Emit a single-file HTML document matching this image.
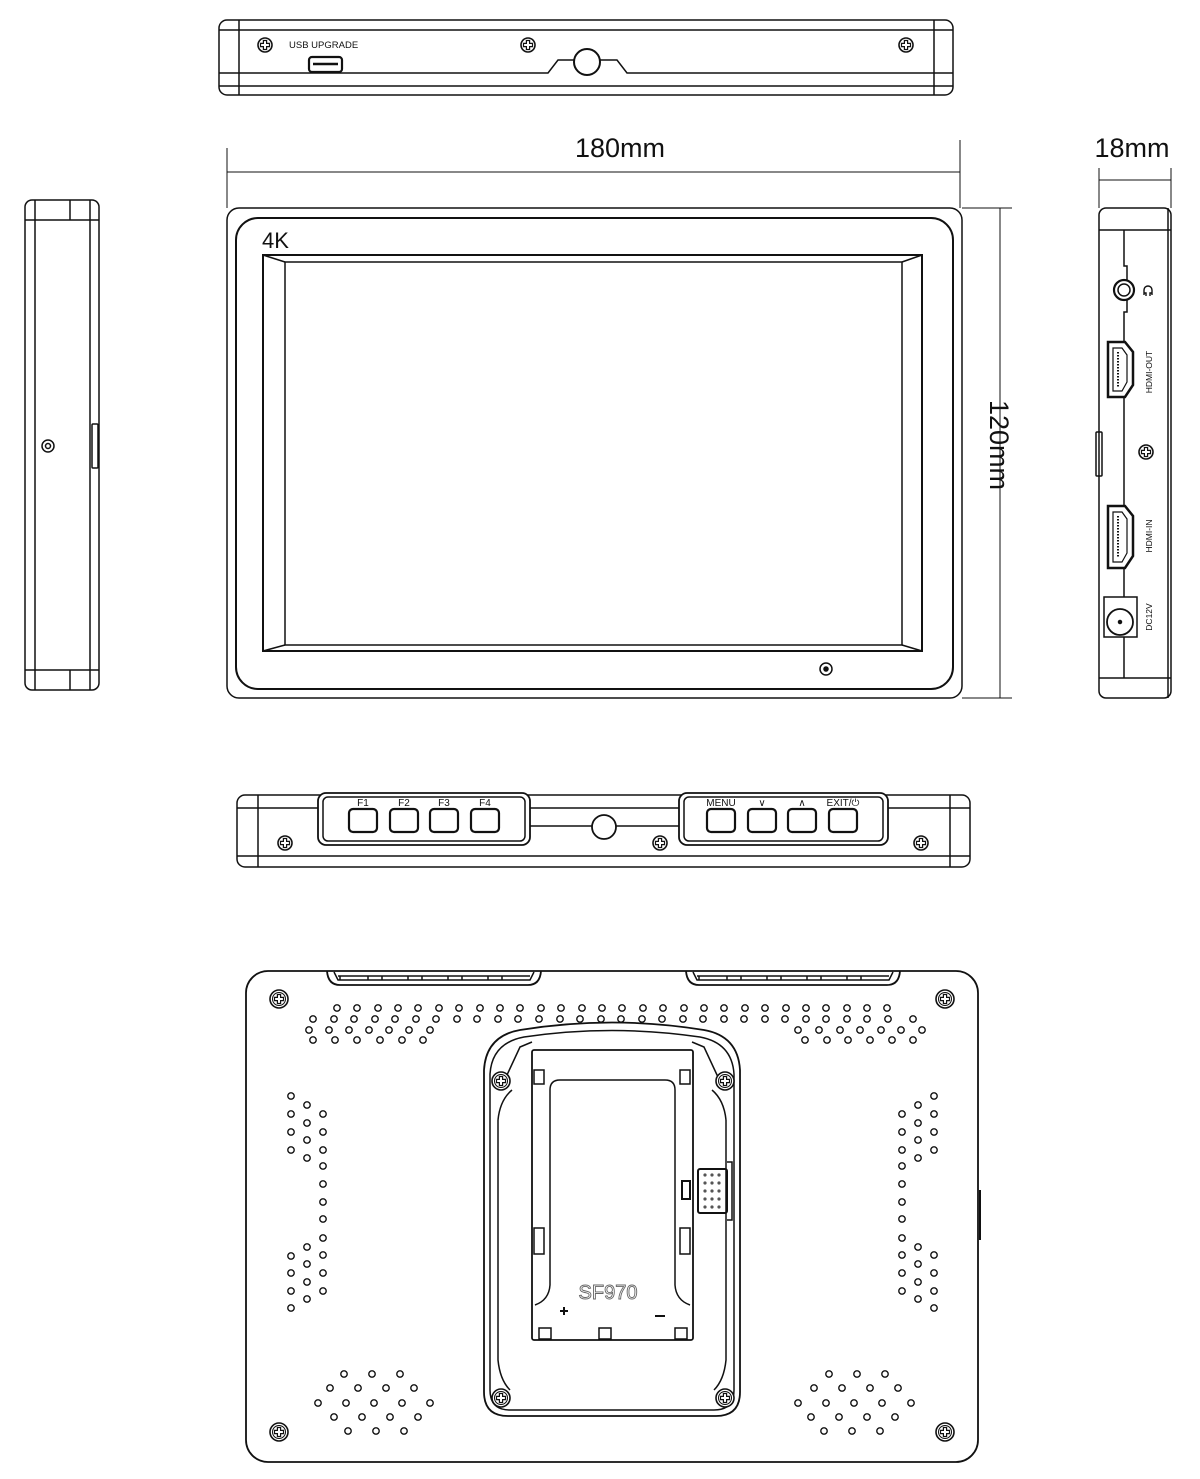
<!DOCTYPE html>
<html><head><meta charset="utf-8"><style>
html,body{margin:0;padding:0;background:#fff;}
svg{display:block;}
text{font-family:"Liberation Sans",sans-serif;fill:#111;}
</style></head><body>
<svg width="1200" height="1479" viewBox="0 0 1200 1479" xmlns="http://www.w3.org/2000/svg">
<defs>
<g id="sc"><circle r="7" fill="#fff" stroke="#111" stroke-width="1.6"/><path d="M-1.6,-4.5h3.2v2.9h2.9v3.2h-2.9v2.9h-3.2v-2.9h-2.9v-3.2h2.9z" fill="none" stroke="#111" stroke-width="1.2"/></g>
<g id="sc2"><circle r="9" fill="#fff" stroke="#111" stroke-width="1.6"/><circle r="6.5" fill="none" stroke="#111" stroke-width="1"/><path d="M-1.6,-4.5h3.2v2.9h2.9v3.2h-2.9v2.9h-3.2v-2.9h-2.9v-3.2h2.9z" fill="none" stroke="#111" stroke-width="1.2"/></g>
<circle id="d" r="3.2" fill="none" stroke="#111" stroke-width="1.4"/>
</defs>
<g fill="none" stroke="#111" stroke-width="1.5">
<!-- TOP VIEW -->
<rect x="219" y="20" width="734" height="75" rx="8"/>
<line x1="239" y1="20" x2="239" y2="95"/><line x1="934" y1="20" x2="934" y2="95"/>
<line x1="219" y1="30" x2="953" y2="30"/>
<line x1="219" y1="86" x2="953" y2="86"/>
<path d="M219,73 H548 L558,60 H574 M600,60 H617 L627,73 H953"/>
<circle cx="587" cy="62" r="13" stroke-width="2"/>
<rect x="309" y="57" width="33" height="15" rx="3" stroke-width="2.2"/>
<line x1="313" y1="64" x2="338" y2="64" stroke-width="2.5"/>
<!-- FRONT -->
<rect x="227" y="208" width="735" height="490" rx="12"/>
<rect x="236" y="218" width="717" height="471" rx="22" stroke-width="2"/>
<rect x="263" y="255" width="659" height="396" stroke-width="2"/>
<rect x="285" y="262" width="617" height="383"/>
<path d="M263,255 L285,262 M922,255 L902,262 M263,651 L285,645 M922,651 L902,645"/>
<circle cx="826" cy="669" r="6"/><circle cx="826" cy="669" r="2" fill="#111"/>
<!-- dims -->
<path d="M227,148 V208 M960,140 V208 M227,172 H960 M962,208 H1012 M962,698 H1012 M1000,208 V698" stroke-width="1"/>
<path d="M1099,168 V208 M1171,168 V208 M1099,180 H1171" stroke-width="1"/>
<!-- LEFT SIDE -->
<rect x="25" y="200" width="74" height="490" rx="7"/>
<line x1="35" y1="200" x2="35" y2="690"/><line x1="90" y1="200" x2="90" y2="690"/>
<line x1="25" y1="220" x2="99" y2="220"/><line x1="25" y1="670" x2="99" y2="670"/>
<line x1="70" y1="200" x2="70" y2="220"/><line x1="70" y1="670" x2="70" y2="690"/>
<rect x="92" y="424" width="6" height="44" rx="1"/>
<circle cx="48" cy="446" r="6"/><circle cx="48" cy="446" r="2.5"/>
<!-- RIGHT SIDE -->
<rect x="1099" y="208" width="72" height="490" rx="7"/>
<line x1="1168" y1="208" x2="1168" y2="698"/>
<line x1="1099" y1="230" x2="1171" y2="230"/><line x1="1099" y1="678" x2="1171" y2="678"/>
<path d="M1124,230 V266 H1127 V312 H1124 V678"/>
<circle cx="1124" cy="290" r="10" stroke-width="2.2" fill="#fff"/><circle cx="1124" cy="290" r="6"/>
<path d="M1144,295 v-5 a4,4 0 0 1 8,0 v5 M1144,293 h2 v3 M1152,293 h-2 v3" stroke-width="1.4"/>
<path d="M1108,342 H1125 L1133,352 V385 L1125,397 H1108 Z" stroke-width="2.5" fill="#fff"/>
<path d="M1113,348 H1122 L1127,355 V382 L1122,391 H1113 Z" stroke-width="1.2"/>
<line x1="1118" y1="352" x2="1118" y2="387" stroke-dasharray="1.5,1.5" stroke-width="2"/>
<path d="M1108,506 H1125 L1133,516 V556 L1125,568 H1108 Z" stroke-width="2.5" fill="#fff"/>
<path d="M1113,512 H1122 L1127,519 V553 L1122,562 H1113 Z" stroke-width="1.2"/>
<line x1="1118" y1="516" x2="1118" y2="558" stroke-dasharray="1.5,1.5" stroke-width="2"/>
<rect x="1104" y="597" width="33" height="40" fill="#fff"/>
<circle cx="1120" cy="622" r="13" stroke-width="1.8"/><circle cx="1120" cy="622" r="1.5" fill="#111"/>
<rect x="1096" y="432" width="6" height="44" rx="1"/>
<!-- BOTTOM VIEW -->
<rect x="237" y="795" width="733" height="72" rx="8"/>
<line x1="258" y1="795" x2="258" y2="867"/><line x1="950" y1="795" x2="950" y2="867"/>
<line x1="237" y1="808" x2="318" y2="808"/><line x1="888" y1="808" x2="970" y2="808"/>
<line x1="530" y1="808" x2="679" y2="808"/><line x1="530" y1="826" x2="592" y2="826"/><line x1="616" y1="826" x2="679" y2="826"/>
<line x1="237" y1="856" x2="970" y2="856"/>
<rect x="318" y="793" width="212" height="52" rx="8" fill="#fff" stroke-width="1.8"/>
<rect x="323" y="797" width="202" height="44" rx="5"/>
<rect x="679" y="793" width="209" height="52" rx="8" fill="#fff" stroke-width="1.8"/>
<rect x="684" y="797" width="199" height="44" rx="5"/>
<g stroke-width="2.2">
<rect x="349" y="809" width="28" height="23" rx="4"/><rect x="390" y="809" width="28" height="23" rx="4"/><rect x="430" y="809" width="28" height="23" rx="4"/><rect x="471" y="809" width="28" height="23" rx="4"/>
<rect x="707" y="809" width="28" height="23" rx="4"/><rect x="748" y="809" width="28" height="23" rx="4"/><rect x="788" y="809" width="28" height="23" rx="4"/><rect x="829" y="809" width="28" height="23" rx="4"/>
</g>
<circle cx="604" cy="827" r="12" stroke-width="1.8"/>
<!-- BACK VIEW -->
<rect x="246" y="971" width="732" height="491" rx="22" stroke-width="1.8"/>
<path d="M327,971 Q328,985 340,985 H528 Q540,985 541,971" stroke-width="1.8"/>
<path d="M334,972 L338,980 H530 L534,972 M340,980 v-4 M368,980 v-4 M382,980 v-4 M408,980 v-4 M422,980 v-4 M448,980 v-4 M462,980 v-4 M488,980 v-4 M502,980 v-4 M338,976 H530"/>
<path d="M686,971 Q687,985 699,985 H887 Q899,985 900,971" stroke-width="1.8"/>
<path d="M693,972 L697,980 H889 L893,972 M699,980 v-4 M727,980 v-4 M741,980 v-4 M767,980 v-4 M781,980 v-4 M807,980 v-4 M821,980 v-4 M847,980 v-4 M861,980 v-4 M697,976 H889"/>
<line x1="980" y1="1190" x2="980" y2="1240" stroke-width="2"/>
</g>
<!-- screws -->
<use href="#sc" x="265" y="45"/><use href="#sc" x="528" y="45"/><use href="#sc" x="906" y="45"/>
<use href="#sc" x="1146" y="452"/>
<use href="#sc" x="285" y="843"/><use href="#sc" x="660" y="843"/><use href="#sc" x="921" y="843"/>
<use href="#sc2" x="279" y="999"/><use href="#sc2" x="945" y="999"/><use href="#sc2" x="279" y="1432"/><use href="#sc2" x="945" y="1432"/>
<!-- dots -->
<g>
<use href="#d" x="337" y="1008"/><use href="#d" x="357" y="1008"/><use href="#d" x="378" y="1008"/><use href="#d" x="398" y="1008"/><use href="#d" x="418" y="1008"/><use href="#d" x="439" y="1008"/><use href="#d" x="459" y="1008"/><use href="#d" x="480" y="1008"/><use href="#d" x="500" y="1008"/><use href="#d" x="520" y="1008"/><use href="#d" x="541" y="1008"/><use href="#d" x="561" y="1008"/><use href="#d" x="582" y="1008"/><use href="#d" x="602" y="1008"/><use href="#d" x="622" y="1008"/><use href="#d" x="643" y="1008"/><use href="#d" x="663" y="1008"/><use href="#d" x="684" y="1008"/><use href="#d" x="704" y="1008"/><use href="#d" x="724" y="1008"/><use href="#d" x="745" y="1008"/><use href="#d" x="765" y="1008"/><use href="#d" x="786" y="1008"/><use href="#d" x="806" y="1008"/><use href="#d" x="826" y="1008"/><use href="#d" x="847" y="1008"/><use href="#d" x="867" y="1008"/><use href="#d" x="887" y="1008"/>
<use href="#d" x="313" y="1019"/><use href="#d" x="334" y="1019"/><use href="#d" x="354" y="1019"/><use href="#d" x="375" y="1019"/><use href="#d" x="395" y="1019"/><use href="#d" x="416" y="1019"/><use href="#d" x="436" y="1019"/><use href="#d" x="457" y="1019"/><use href="#d" x="477" y="1019"/><use href="#d" x="498" y="1019"/><use href="#d" x="518" y="1019"/><use href="#d" x="539" y="1019"/><use href="#d" x="560" y="1019"/><use href="#d" x="580" y="1019"/><use href="#d" x="601" y="1019"/><use href="#d" x="621" y="1019"/><use href="#d" x="642" y="1019"/><use href="#d" x="662" y="1019"/><use href="#d" x="683" y="1019"/><use href="#d" x="703" y="1019"/><use href="#d" x="724" y="1019"/><use href="#d" x="744" y="1019"/><use href="#d" x="765" y="1019"/><use href="#d" x="785" y="1019"/><use href="#d" x="806" y="1019"/><use href="#d" x="826" y="1019"/><use href="#d" x="847" y="1019"/><use href="#d" x="867" y="1019"/><use href="#d" x="888" y="1019"/><use href="#d" x="913" y="1019"/>
<use href="#d" x="309" y="1030"/><use href="#d" x="329" y="1030"/><use href="#d" x="349" y="1030"/><use href="#d" x="369" y="1030"/><use href="#d" x="389" y="1030"/><use href="#d" x="409" y="1030"/><use href="#d" x="430" y="1030"/>
<use href="#d" x="798" y="1030"/><use href="#d" x="819" y="1030"/><use href="#d" x="840" y="1030"/><use href="#d" x="860" y="1030"/><use href="#d" x="881" y="1030"/><use href="#d" x="901" y="1030"/><use href="#d" x="922" y="1030"/>
<use href="#d" x="313" y="1040"/><use href="#d" x="335" y="1040"/><use href="#d" x="357" y="1040"/><use href="#d" x="380" y="1040"/><use href="#d" x="402" y="1040"/><use href="#d" x="423" y="1040"/>
<use href="#d" x="805" y="1040"/><use href="#d" x="827" y="1040"/><use href="#d" x="848" y="1040"/><use href="#d" x="870" y="1040"/><use href="#d" x="892" y="1040"/><use href="#d" x="913" y="1040"/>
<!-- left columns -->
<use href="#d" x="291" y="1096"/><use href="#d" x="291" y="1114"/><use href="#d" x="291" y="1132"/><use href="#d" x="291" y="1150"/>
<use href="#d" x="291" y="1256"/><use href="#d" x="291" y="1273"/><use href="#d" x="291" y="1291"/><use href="#d" x="291" y="1308"/>
<use href="#d" x="307" y="1105"/><use href="#d" x="307" y="1123"/><use href="#d" x="307" y="1140"/><use href="#d" x="307" y="1158"/>
<use href="#d" x="307" y="1247"/><use href="#d" x="307" y="1264"/><use href="#d" x="307" y="1282"/><use href="#d" x="307" y="1299"/>
<use href="#d" x="323" y="1114"/><use href="#d" x="323" y="1132"/><use href="#d" x="323" y="1150"/><use href="#d" x="323" y="1166"/><use href="#d" x="323" y="1184"/><use href="#d" x="323" y="1202"/><use href="#d" x="323" y="1219"/><use href="#d" x="323" y="1238"/><use href="#d" x="323" y="1255"/><use href="#d" x="323" y="1273"/><use href="#d" x="323" y="1291"/>
<!-- right columns -->
<use href="#d" x="934" y="1096"/><use href="#d" x="934" y="1114"/><use href="#d" x="934" y="1132"/><use href="#d" x="934" y="1150"/>
<use href="#d" x="934" y="1255"/><use href="#d" x="934" y="1273"/><use href="#d" x="934" y="1291"/><use href="#d" x="934" y="1308"/>
<use href="#d" x="918" y="1105"/><use href="#d" x="918" y="1123"/><use href="#d" x="918" y="1140"/><use href="#d" x="918" y="1158"/>
<use href="#d" x="918" y="1247"/><use href="#d" x="918" y="1264"/><use href="#d" x="918" y="1282"/><use href="#d" x="918" y="1299"/>
<use href="#d" x="902" y="1114"/><use href="#d" x="902" y="1132"/><use href="#d" x="902" y="1150"/><use href="#d" x="902" y="1166"/><use href="#d" x="902" y="1184"/><use href="#d" x="902" y="1202"/><use href="#d" x="902" y="1219"/><use href="#d" x="902" y="1238"/><use href="#d" x="902" y="1255"/><use href="#d" x="902" y="1273"/><use href="#d" x="902" y="1291"/>
<!-- bottom diamonds -->
<use href="#d" x="344" y="1374"/><use href="#d" x="372" y="1374"/><use href="#d" x="400" y="1374"/>
<use href="#d" x="330" y="1388"/><use href="#d" x="358" y="1388"/><use href="#d" x="386" y="1388"/><use href="#d" x="414" y="1388"/>
<use href="#d" x="318" y="1403"/><use href="#d" x="346" y="1403"/><use href="#d" x="374" y="1403"/><use href="#d" x="402" y="1403"/><use href="#d" x="430" y="1403"/>
<use href="#d" x="334" y="1417"/><use href="#d" x="362" y="1417"/><use href="#d" x="390" y="1417"/><use href="#d" x="418" y="1417"/>
<use href="#d" x="348" y="1431"/><use href="#d" x="376" y="1431"/><use href="#d" x="404" y="1431"/>
<use href="#d" x="829" y="1374"/><use href="#d" x="857" y="1374"/><use href="#d" x="885" y="1374"/>
<use href="#d" x="814" y="1388"/><use href="#d" x="842" y="1388"/><use href="#d" x="870" y="1388"/><use href="#d" x="898" y="1388"/>
<use href="#d" x="798" y="1403"/><use href="#d" x="826" y="1403"/><use href="#d" x="854" y="1403"/><use href="#d" x="882" y="1403"/><use href="#d" x="911" y="1403"/>
<use href="#d" x="811" y="1417"/><use href="#d" x="839" y="1417"/><use href="#d" x="867" y="1417"/><use href="#d" x="895" y="1417"/>
<use href="#d" x="824" y="1431"/><use href="#d" x="852" y="1431"/><use href="#d" x="880" y="1431"/>
</g>
<!-- battery plate -->
<g fill="none" stroke="#111" stroke-width="1.5">
<path d="M484,1070 Q486,1036 520,1030 Q612,1015 704,1030 Q738,1036 740,1070 V1392 Q740,1416 716,1416 H508 Q484,1416 484,1392 Z" fill="#fff" stroke-width="1.8"/>
<path d="M490,1074 Q492,1043 524,1037 Q612,1024 700,1037 Q732,1043 734,1074 V1390 Q734,1410 714,1410 H510 Q490,1410 490,1390 Z"/>
<path d="M500,1090 L520,1047 L532,1042 M724,1090 L704,1047 L692,1042 M498,1120 Q500,1100 512,1090 M726,1120 Q724,1100 712,1090"/>
<path d="M498,1120 V1360 Q500,1380 510,1390 M726,1120 V1360 Q724,1380 714,1390"/>
<rect x="532" y="1050" width="161" height="290" rx="2" stroke-width="1.8"/>
<path d="M550,1090 Q550,1080 560,1080 H665 Q675,1080 675,1090 V1285 Q676,1300 690,1305 M550,1285 Q549,1300 535,1305 M550,1090 V1285"/>
<rect x="534" y="1070" width="10" height="14"/><rect x="680" y="1070" width="10" height="14"/>
<rect x="534" y="1228" width="10" height="26"/><rect x="680" y="1228" width="10" height="26"/>
<rect x="539" y="1328" width="12" height="11"/><rect x="599" y="1328" width="12" height="11"/><rect x="675" y="1328" width="12" height="11"/>
<rect x="682" y="1181" width="8" height="18" stroke-width="2"/>
<rect x="698" y="1169" width="29" height="44" rx="2" stroke-width="2"/>
<path d="M727,1162 H732 V1220 H727"/>
<path d="M560,1311 h8 M564,1307 v8 M655,1316 h10" stroke-width="2"/>
</g>
<g fill="#555">
<circle cx="705" cy="1175" r="1.6"/><circle cx="712" cy="1175" r="1.6"/><circle cx="719" cy="1175" r="1.6"/>
<circle cx="705" cy="1183" r="1.6"/><circle cx="712" cy="1183" r="1.6"/><circle cx="719" cy="1183" r="1.6"/>
<circle cx="705" cy="1191" r="1.6"/><circle cx="712" cy="1191" r="1.6"/><circle cx="719" cy="1191" r="1.6"/>
<circle cx="705" cy="1199" r="1.6"/><circle cx="712" cy="1199" r="1.6"/><circle cx="719" cy="1199" r="1.6"/>
<circle cx="705" cy="1207" r="1.6"/><circle cx="712" cy="1207" r="1.6"/><circle cx="719" cy="1207" r="1.6"/>
</g>
<use href="#sc2" x="501" y="1081"/><use href="#sc2" x="725" y="1081"/><use href="#sc2" x="501" y="1398"/><use href="#sc2" x="725" y="1398"/>
<!-- texts -->
<text x="289" y="48" font-size="9.5">USB UPGRADE</text>
<text x="262" y="248" font-size="22">4K</text>
<text x="620" y="157" font-size="27" text-anchor="middle">180mm</text>
<text x="1132" y="157" font-size="27" text-anchor="middle">18mm</text>
<text font-size="27" text-anchor="middle" transform="translate(990,445) rotate(90)">120mm</text>
<text font-size="8.5" text-anchor="middle" transform="translate(1152,372) rotate(-90)">HDMI-OUT</text>
<text font-size="8.5" text-anchor="middle" transform="translate(1152,536) rotate(-90)">HDMI-IN</text>
<text font-size="8.5" text-anchor="middle" transform="translate(1152,617) rotate(-90)">DC12V</text>
<g font-size="10" text-anchor="middle">
<text x="363" y="806">F1</text><text x="404" y="806">F2</text><text x="444" y="806">F3</text><text x="485" y="806">F4</text>
<text x="721" y="806">MENU</text><text x="762" y="806">∨</text><text x="802" y="806">∧</text><text x="843" y="806">EXIT/⏻</text>
</g>
<text x="608" y="1299" font-size="20" text-anchor="middle" style="fill:#fff;stroke:#666;stroke-width:0.9">SF970</text>
</svg>
</body></html>
